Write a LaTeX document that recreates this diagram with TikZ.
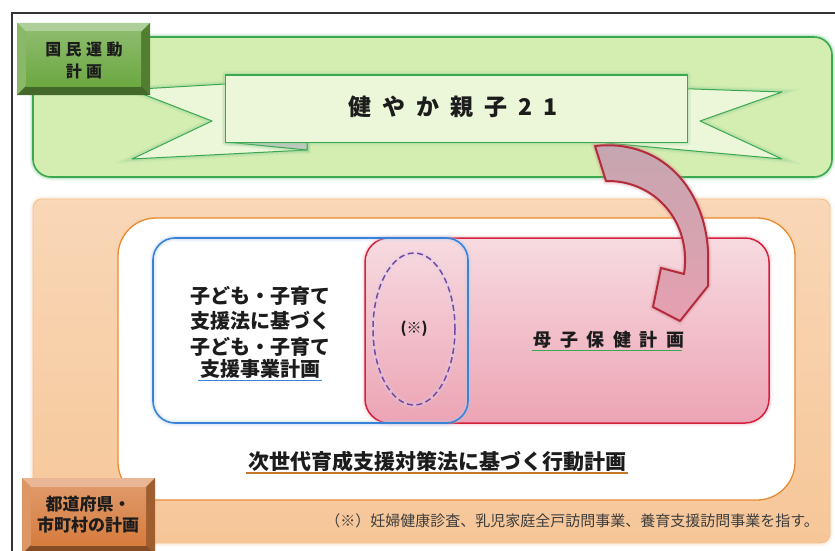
\documentclass[tikz,border=0pt]{standalone}
\usepackage{fontspec}
\setmainfont{Noto Sans CJK JP}
\newfontfamily\jpwide[LetterSpace=48]{Noto Sans CJK JP}
\newfontfamily\jpmid[LetterSpace=28]{Noto Sans CJK JP}

\definecolor{natline}{RGB}{58,168,78}
\definecolor{natfill}{RGB}{212,237,176}
\definecolor{ribfill}{RGB}{236,246,216}
\definecolor{natface}{RGB}{108,168,66}
\definecolor{locfill}{RGB}{246,198,152}
\definecolor{locline}{RGB}{234,138,48}
\definecolor{locface}{RGB}{214,124,62}
\definecolor{kidline}{RGB}{58,130,214}
\definecolor{motherline}{RGB}{212,32,60}
\definecolor{motherfill}{RGB}{236,164,180}
\definecolor{dotline}{RGB}{118,72,166}
\definecolor{arrline}{RGB}{178,44,60}
\definecolor{arrtop}{RGB}{196,166,176}
\definecolor{arrbot}{RGB}{230,160,176}
\definecolor{ink}{RGB}{28,28,28}

% bevelled label plate: x1, y1, x2, y2, colour
\newcommand\bevelbox[5]{%
	\fill[#5] (#1,#2) rectangle (#3,#4);
	\fill[#5!55!white] (#1,#2) -- (#3,#2) -- (#3-9,#2+9) -- (#1+9,#2+9) -- cycle;
	\fill[#5!80!white] (#1,#2) -- (#1+9,#2+9) -- (#1+9,#4-9) -- (#1,#4) -- cycle;
	\fill[#5!75!black] (#3,#2) -- (#3,#4) -- (#3-9,#4-9) -- (#3-9,#2+9) -- cycle;
	\fill[#5!62!black] (#1,#4) -- (#3,#4) -- (#3-9,#4-9) -- (#1+9,#4-9) -- cycle;
	\shade[top color=#5!78!white,bottom color=#5] (#1+9,#2+9) rectangle (#3-9,#4-9);
}

\begin{document}
\begin{tikzpicture}[x=1pt,y=-1pt,
	glow/.style={preaction={draw=#1,opacity=.14,line width=7pt},preaction={draw=#1,opacity=.25,line width=4pt}},
	band/.style={draw=natline,fill=ribfill,line width=1pt,line join=round,glow=natline!60},
	tag/.style={font=\bfseries\fontsize{16}{22}\selectfont,text=ink,align=center,inner sep=0pt},
	plan/.style={font=\bfseries\fontsize{20}{25.5}\selectfont,text=ink,align=center,inner sep=1.5pt}]

	\useasboundingbox (0,0) rectangle (835,551);
	\fill[white] (0,0) rectangle (835,551);
	\draw[line width=1.4pt,black!80] (12,551) -- (12,13) -- (835,13);

	\draw[natline,line width=1.6pt,fill=natfill,rounded corners=18pt,glow=natline!70] (33,37) rectangle (832,177);
	\draw[band] (140,89) -- (226,84) -- (307,141) -- (307,150) -- (132,159) -- (212,121) -- (140,93) -- cycle;
	\draw[band] (606,86) -- (782,92) -- (700,121) -- (782,159) -- (606,143) -- cycle;
	\filldraw[band,fill=natline!20!gray!45] (226,142) -- (307,142) -- (307,150) -- cycle;
	\path (456,108.5) node[band,minimum width=462pt,minimum height=67pt] (banner) {}
		(453,107) node[font=\jpwide\bfseries\fontsize{23}{23}\selectfont,text=ink] (title) {健やか親子21};

	\bevelbox{17}{23}{150}{95}{natface}
	\path (84,60) node[tag,font=\jpmid\bfseries\fontsize{16}{22}\selectfont] (natlabel) {国民運動\\計画};

	\draw[locline!55,line width=.8pt,top color=locfill!70!white,bottom color=locfill,rounded corners=9pt,glow=locline!35] (33,199) rectangle (830,543);
	\draw[locline,fill=white,line width=1.3pt,rounded corners=38pt,glow=locline!40] (118,218) rectangle (795,500);

	\draw[motherline,line width=1.5pt,top color=motherfill!40!white,bottom color=motherfill,rounded corners=24pt,glow=motherline!35] (365,238) rectangle (769,423);
	\draw[dotline,line width=1.5pt,dash pattern=on 6pt off 3.5pt,glow=dotline!25] (414,329) ellipse [x radius=41,y radius=76];
	\draw[kidline,line width=1.6pt,rounded corners=22pt,glow=kidline!40] (153,238) rectangle (468,423);
%	\draw[->,arrline,line width=12pt] (banner.south east) to[bend left=60] (boshi.north east);
	\draw[arrline,line width=2pt,line join=round,top color=arrtop,bottom color=arrbot,glow=arrline!60] (595,146) .. controls (665,138) and (712,195) .. (708,268) -- (708,286) -- (680,321) -- (653,307) -- (661,268) -- (684,274) .. controls (692,222) and (655,180) .. (606,181) -- cycle;

	\path (260,321) node[plan] (kidplan) {子ども・子育て\\支援法に基づく\\子ども・子育て}
		(260,369) node[plan] (kidplanb) {支援事業計画}
		(414,329) node[font=\bfseries\fontsize{15}{15}\selectfont,text=ink] (mark) {(※)}
		(607,340) node[plan,font=\jpwide\bfseries\fontsize{18}{18}\selectfont] (boshi) {母子保健計画\kern-4pt}
		(437,461) node[plan,font=\bfseries\fontsize{21}{21}\selectfont] (nextgen) {次世代育成支援対策法に基づく行動計画}
		(572,521) node[font=\fontsize{15}{15}\selectfont,text=ink!85] (note) {（※）妊婦健康診査、乳児家庭全戸訪問事業、養育支援訪問事業を指す。};
	\draw[kidline,line width=1.3pt] (kidplanb.south west) -- (kidplanb.south east);
	\draw[natline,line width=1.3pt] (boshi.south west) -- (boshi.south east);
	\draw[locline!85!black,line width=1.3pt] (nextgen.south west) -- (nextgen.south east);

	\bevelbox{22}{478}{155}{554}{locface}
	\path (88,515) node[tag,font=\bfseries\fontsize{17}{21}\selectfont] (loclabel) {都道府県・\\市町村の計画};
\end{tikzpicture}
\end{document}
